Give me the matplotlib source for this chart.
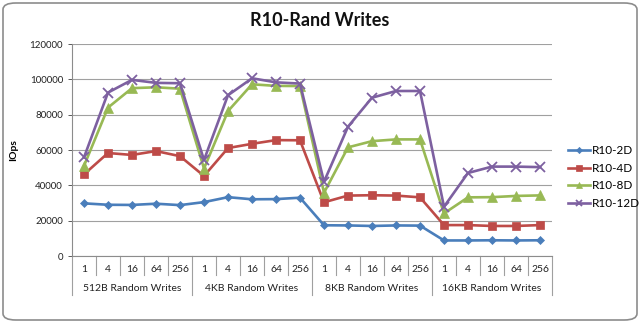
import matplotlib as mpl
mpl.use('Agg')
import matplotlib.pyplot as plt
from matplotlib.patches import FancyBboxPatch
import matplotlib.transforms as mtransforms
import numpy as np

# Queue depths and block-size groups
depths = ['1', '4', '16', '64', '256']
groups = ['512B Random Writes', '4KB Random Writes', '8KB Random Writes', '16KB Random Writes']

# IOps per series (4 groups x 5 depths)
r10_2d = [29800, 29000, 28900, 29600, 28800,
          30500, 33300, 32100, 32200, 33000,
          17400, 17300, 17000, 17300, 17200,
          8800, 8800, 8900, 8800, 8900]
r10_4d = [46200, 58300, 57200, 59400, 56500,
          45300, 61100, 63500, 65600, 65500,
          30400, 34200, 34400, 34200, 33200,
          17500, 17500, 17000, 17000, 17500]
r10_8d = [51000, 84000, 95000, 95500, 94700,
          49500, 82000, 97200, 96300, 96200,
          35800, 61500, 65000, 66000, 66000,
          24100, 33200, 33300, 34000, 34300]
r10_12d = [55800, 92500, 99700, 98000, 97800,
           54300, 91000, 100600, 98300, 97600,
           42000, 73200, 89600, 93400, 93400,
           27900, 47000, 50600, 50600, 50300]

series = [('R10-2D', r10_2d, '#4A7EBB', 'D', 4.5),
          ('R10-4D', r10_4d, '#BE4B48', 's', 6),
          ('R10-8D', r10_8d, '#98B954', '^', 6.5),
          ('R10-12D', r10_12d, '#7D60A0', 'x', 7)]

plt.rcParams['font.family'] = ['Lato', 'DejaVu Sans']

W, H = 640, 323
fig = plt.figure(figsize=(W / 100, H / 100), dpi=100)

# rounded frame around the chart
frame = FancyBboxPatch((3 / W, 3 / H), 1 - 6 / W, 1 - 6 / H,
                       boxstyle='round,pad=0,rounding_size=0.02',
                       transform=fig.transFigure, facecolor='white',
                       edgecolor='#8c8c8c', linewidth=1.2, zorder=-10)
fig.patches.append(frame)

ax = fig.add_axes([72 / W, 1 - 256 / H, 480 / W, 212 / H])
x = np.arange(len(groups) * len(depths))

for name, vals, col, mk, ms in series:
    ax.plot(x, vals, color=col, marker=mk, markersize=ms, linewidth=1.9,
            markeredgewidth=1.3 if mk == 'x' else 0.5, label=name)

ax.set_xlim(-0.5, len(x) - 0.5)
ax.set_ylim(0, 120000)
ax.set_yticks(np.arange(0, 120001, 20000))
ax.tick_params(axis='y', labelsize=7, colors='#404040', length=3, width=0.6)
for lab in ax.get_yticklabels():
    lab.set_color('#222222')
ax.set_xticks([])
ax.grid(axis='y', color='#a0a0a0', linewidth=0.8)
ax.set_axisbelow(True)
for s in ['top', 'right']:
    ax.spines[s].set_visible(False)
ax.spines['left'].set_color('#8c8c8c')
ax.spines['bottom'].set_color('#8c8c8c')

ax.set_ylabel('IOps', fontsize=7.5, fontweight='bold', labelpad=8)

# two-level category axis
trans = mtransforms.blended_transform_factory(ax.transData, ax.transAxes)
for i, xi in enumerate(x):
    ax.text(xi, -0.062, depths[i % len(depths)], transform=trans,
            ha='center', va='center', fontsize=7.5, color='#222222')
for b in np.arange(-0.5, len(x), 1.0):
    if int(b + 0.5) % len(depths) == 0:
        ax.plot([b, b], [0, -0.185], transform=trans, color='#a0a0a0',
                linewidth=0.8, clip_on=False)
    else:
        ax.plot([b, b], [0, -0.09], transform=trans, color='#a0a0a0',
                linewidth=0.8, clip_on=False)
for g, name in enumerate(groups):
    ax.text(g * len(depths) + 2, -0.155, name, transform=trans,
            ha='center', va='center', fontsize=7.5, color='#222222')

fig.text(0.5, 1 - 20 / H, 'R10-Rand Writes', ha='center', va='center',
         fontsize=13, fontweight='bold', color='#111111')

leg = ax.legend(loc='center left', bbox_to_anchor=(496 / 480, 79 / 212),
                frameon=False, borderpad=0, borderaxespad=0,
                fontsize=8.5, handlelength=1.9, labelspacing=0.55,
                handletextpad=0.1, markerscale=0.7)

fig.savefig('out.png', dpi=100)
